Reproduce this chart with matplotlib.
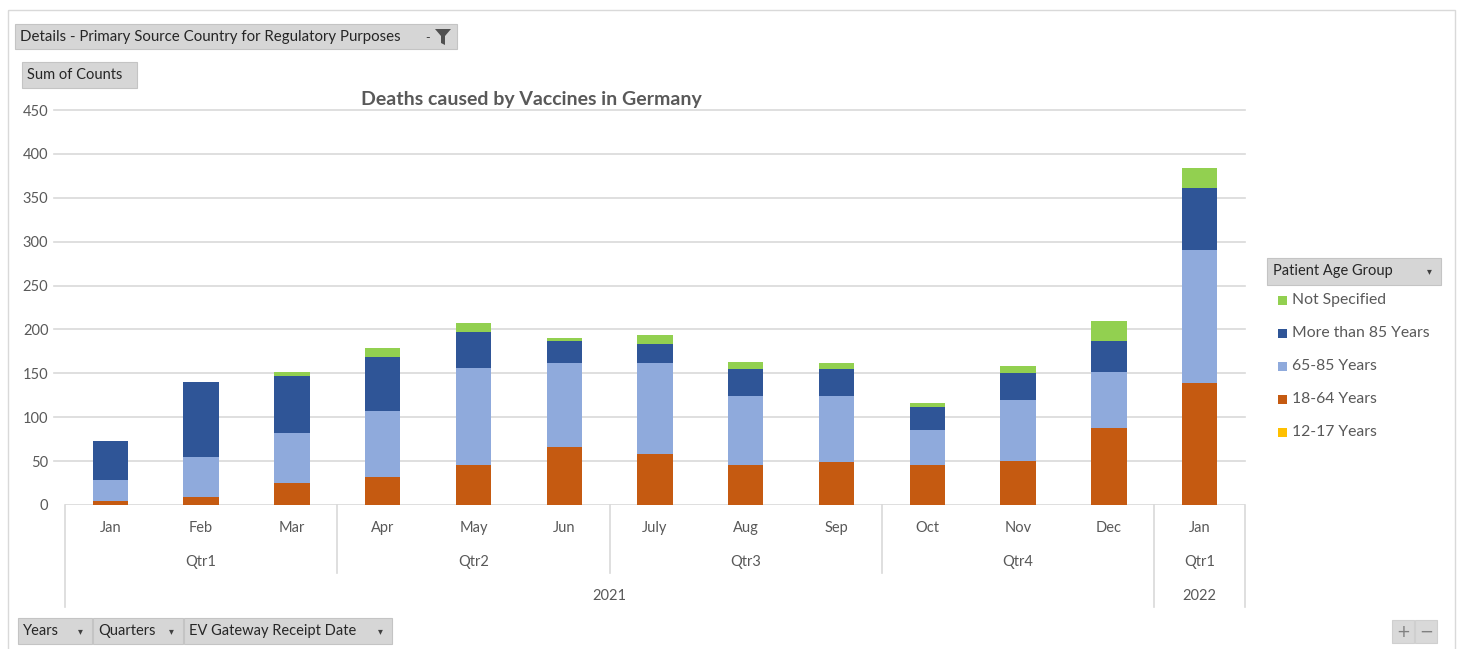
import numpy as np
import matplotlib.pyplot as plt
from matplotlib.patches import Rectangle, Polygon

plt.rcParams['font.family'] = ['Lato', 'DejaVu Sans']

months = ['Jan', 'Feb', 'Mar', 'Apr', 'May', 'Jun', 'July', 'Aug', 'Sep',
          'Oct', 'Nov', 'Dec', 'Jan']
quarters = ['Qtr1', 'Qtr2', 'Qtr3', 'Qtr4', 'Qtr1']
quarter_sizes = [3, 3, 3, 3, 1]
years = ['2021', '2022']
year_sizes = [12, 1]

age_12_17 = [0, 0, 0, 0, 0, 0, 0, 0, 0, 0, 0, 0, 0]
age_18_64 = [5, 9, 25, 32, 46, 66, 58, 46, 49, 46, 50, 88, 139]
age_65_85 = [23, 46, 57, 75, 110, 96, 104, 78, 75, 39, 70, 63, 152]
age_85_plus = [45, 85, 65, 62, 41, 25, 21, 31, 31, 27, 30, 36, 70]
not_specified = [0, 0, 4, 10, 10, 3, 11, 8, 7, 4, 8, 23, 23]

series = [('12-17 Years', age_12_17, '#FFC000'),
          ('18-64 Years', age_18_64, '#C55A11'),
          ('65-85 Years', age_65_85, '#8FAADC'),
          ('More than 85 Years', age_85_plus, '#2F5597'),
          ('Not Specified', not_specified, '#92D050')]

W, H = 1460, 649
fig = plt.figure(figsize=(W / 100, H / 100), dpi=100)

# overlay in pixel coordinates for the pivot-chart buttons and legend
ov = fig.add_axes([0, 0, 1, 1], zorder=1)
ov.set_xlim(0, W)
ov.set_ylim(H, 0)
ov.axis('off')

# plot area
px_l, px_r, px_t, px_b = 65, 1245, 110, 505
ax = fig.add_axes([px_l / W, 1 - px_b / H, (px_r - px_l) / W, (px_b - px_t) / H], zorder=2)
ax.patch.set_alpha(0)

x = np.arange(len(months))
bottom = np.zeros(len(months))
for name, vals, color in series:
    ax.bar(x, vals, 0.39, bottom=bottom, color=color, zorder=3)
    bottom += np.array(vals)

ax.set_xlim(-0.5, len(months) - 0.5)
ax.set_ylim(0, 450)
ax.set_yticks(np.arange(0, 451, 50))
for v in np.arange(50, 451, 50):
    ax.plot([-0.62, len(months) - 0.5], [v, v], color='#d9d9d9', lw=1.2,
            clip_on=False, zorder=1)
ax.plot([-0.5, len(months) - 0.5], [0, 0], color='#d9d9d9', lw=1.2, zorder=1)
for s in ax.spines.values():
    s.set_visible(False)
ax.tick_params(axis='y', length=0, labelsize=10.5, labelcolor='#595959', pad=12)
ax.set_xticks([])

# multi-level category axis
trans = ax.get_xaxis_transform()
def yax(py):
    return (px_b - py) / (px_b - px_t)

for i, m in enumerate(months):
    ax.text(i, yax(528), m, transform=trans, ha='center', va='center',
            fontsize=10.5, color='#595959')

start = 0
for q, n in zip(quarters, quarter_sizes):
    ax.text(start + (n - 1) / 2, yax(562), q, transform=trans, ha='center',
            va='center', fontsize=10.5, color='#595959')
    start += n

start = 0
for yr, n in zip(years, year_sizes):
    ax.text(start + (n - 1) / 2, yax(596), yr, transform=trans, ha='center',
            va='center', fontsize=10.5, color='#595959')
    start += n

# separators between groups
qbounds = np.cumsum([0] + quarter_sizes) - 0.5
ybounds = set(np.cumsum([0] + year_sizes) - 0.5)
for b in qbounds:
    low = 607 if b in ybounds else 573
    ax.plot([b, b], [yax(505), yax(low)], transform=trans, color='#d9d9d9',
            lw=1.2, clip_on=False)

ax.text(0.395, yax(99), 'Deaths caused by Vaccines in Germany',
        transform=ax.transAxes, ha='center', va='center', fontsize=14,
        fontweight='bold', color='#595959')

# chart border
ov.add_patch(Rectangle((8, 10), 1447, 645, fill=False, ec='#d9d9d9', lw=1))

def button(x0, y0, x1, y1, label, arrow=True, tx=None, size=10.5):
    ov.add_patch(Rectangle((x0, y0), x1 - x0, y1 - y0, fc='#d6d6d6',
                           ec='#c4c4c4', lw=0.8))
    ov.text(x0 + 5 if tx is None else tx, (y0 + y1) / 2, label, ha='left',
            va='center', fontsize=size, color='#262626')
    if arrow:
        ov.text(x1 - 12, (y0 + y1) / 2, '▾', ha='center', va='center',
                fontsize=7, color='#404040', family='DejaVu Sans')

button(15, 24, 457, 49, 'Details - Primary Source Country for Regulatory Purposes',
       arrow=False, size=10.8)
ov.text(428, 38, '-', ha='center', va='center', fontsize=9, color='#404040')
ov.add_patch(Polygon([[435, 29], [451, 29], [445, 36], [445, 45], [441, 43],
                      [441, 36]], closed=True, fc='#505050', ec='none'))
button(22, 62, 137, 88, 'Sum of Counts', arrow=False)

button(18, 618, 92, 644, 'Years')
button(93, 618, 183, 644, 'Quarters')
button(184, 618, 392, 644, 'EV Gateway Receipt Date')

ov.add_patch(Rectangle((1392, 620), 22, 23, fc='#d9d9d9', ec='#cfcfcf', lw=0.8))
ov.add_patch(Rectangle((1415, 620), 22, 23, fc='#d9d9d9', ec='#cfcfcf', lw=0.8))
ov.text(1403, 632, '+', ha='center', va='center', fontsize=12, color='#808080',
        family='DejaVu Sans')
ov.text(1426, 632, '−', ha='center', va='center', fontsize=12, color='#808080',
        family='DejaVu Sans')

# legend
button(1267, 258, 1441, 285, 'Patient Age Group', tx=1273)
for k, (name, vals, color) in enumerate(reversed(series)):
    ly = 300 + 33 * k
    ov.add_patch(Rectangle((1278, ly - 4.5), 9, 9, fc=color, ec='none'))
    ov.text(1292, ly, name, ha='left', va='center', fontsize=11.3,
            color='#595959')

fig.savefig('out.png', dpi=100, facecolor='white')
